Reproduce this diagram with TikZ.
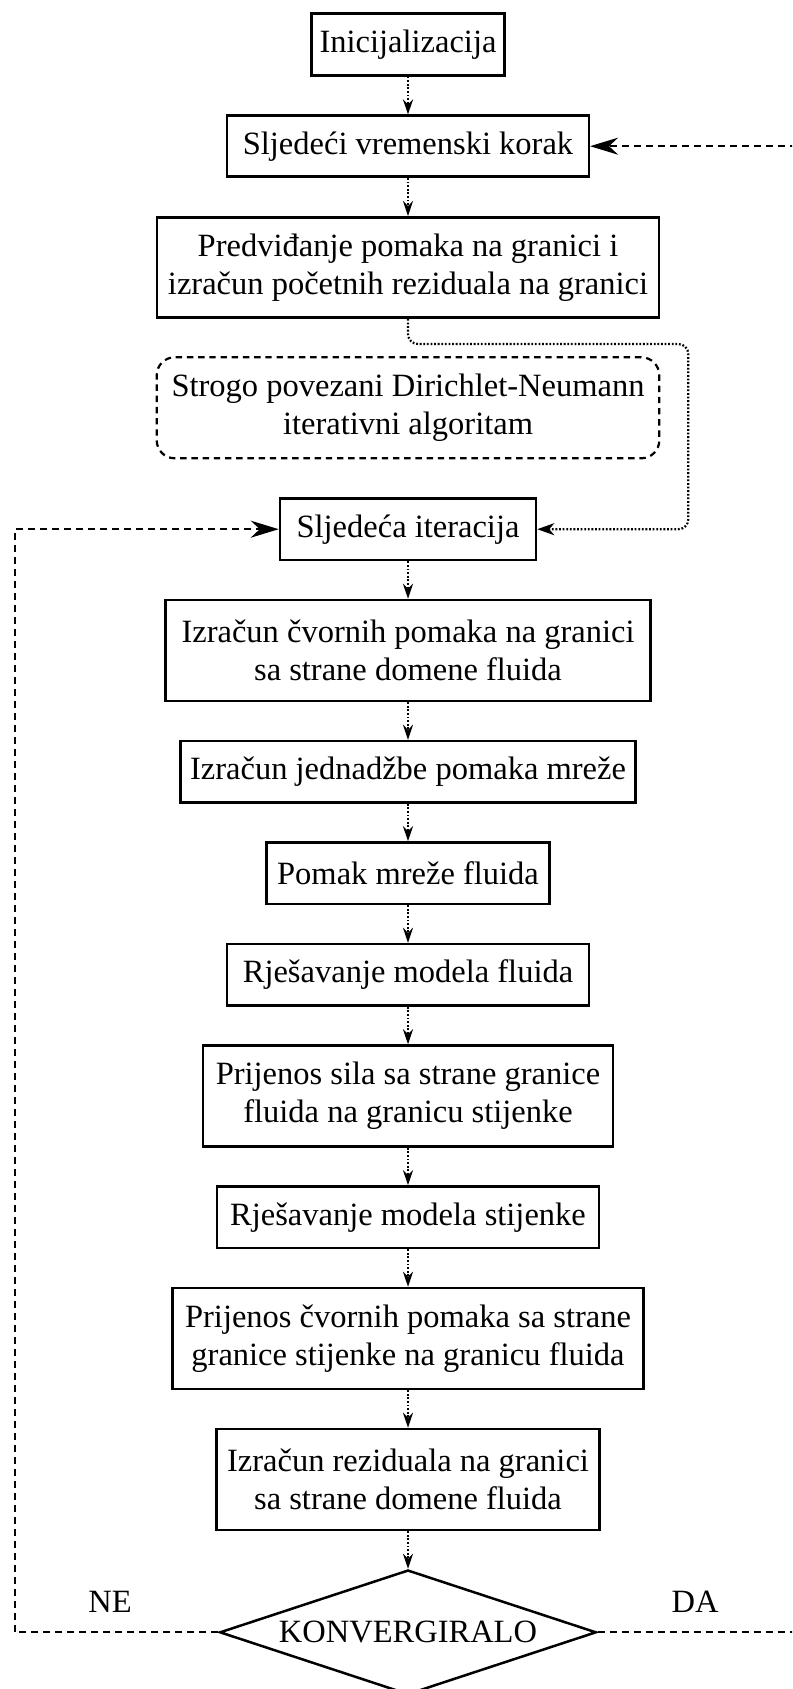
\documentclass[tikz,border=0pt]{standalone}
\usepackage{fontspec}
\setmainfont{Liberation Serif}
\usetikzlibrary{arrows.meta,shapes.geometric}
\begin{document}
\begin{tikzpicture}[x=0.5pt,y=-0.5pt,
  every node/.style={font=\fontsize{16.25}{19.15}\selectfont},
  box/.style={draw, line width=1.25pt, inner sep=0pt, align=center},
  group/.style={draw, line width=1.1pt, inner sep=0pt, align=center, rounded corners=9pt, dash pattern=on 3.2pt off 2.4pt},
  decision/.style={draw, diamond, aspect=3.02, line width=1.25pt, inner sep=0pt, align=center},
  flowdot/.style={line width=1.1pt, dash pattern=on 0.9pt off 0.9pt, -{Stealth[length=7.5pt,width=5pt,inset=2.5pt]}},
  flowdash/.style={line width=1.1pt, dash pattern=on 3.5pt off 2.5pt},
  bigtip/.style={-{Stealth[length=14pt,width=8.5pt,inset=4.5pt]}},
  lbl/.style={inner sep=0pt}
]
\useasboundingbox (0,0) rectangle (792,1689);
\clip (0,0) rectangle (792,1689);
\fill[white] (0,0) rectangle (792,1689);

\node[box, minimum width=96.7pt, minimum height=31pt] (init) at (408,44.3) {Inicijalizacija};
\node[box, minimum width=180.8pt, minimum height=30.5pt] (sljvk) at (408,146.2) {Sljedeći vremenski korak};
\node[box, minimum width=251pt, minimum height=50.2pt] (pred) at (408,267.5) {Predviđanje pomaka na granici i\\izračun početnih reziduala na granici};
\node[group, minimum width=251.3pt, minimum height=50.5pt] (strogo) at (408,407.8) {Strogo povezani Dirichlet-Neumann\\iterativni algoritam};
\node[box, minimum width=128pt, minimum height=30.85pt] (sljit) at (408,529.2) {Sljedeća iteracija};
\node[box, minimum width=242.5pt, minimum height=50.5pt] (cvor1) at (408,650.5) {Izračun čvornih pomaka na granici\\sa strane domene fluida};
\node[box, minimum width=227.7pt, minimum height=30.75pt] (jedn) at (408,771.8) {Izračun jednadžbe pomaka mreže};
\node[box, minimum width=141.5pt, minimum height=30.75pt] (pomak) at (408,873.2) {Pomak mreže fluida};
\node[box, minimum width=180.9pt, minimum height=30.75pt] (fluida) at (408,974.8) {Rješavanje modela fluida};
\node[box, minimum width=205pt, minimum height=50.5pt] (sila) at (408,1096) {Prijenos sila sa strane granice\\fluida na granicu stijenke};
\node[box, minimum width=191pt, minimum height=30.75pt] (stij) at (408,1217.2) {Rješavanje modela stijenke};
\node[box, minimum width=235.5pt, minimum height=50.5pt] (cvor2) at (408,1338.5) {Prijenos čvornih pomaka sa strane\\granice stijenke na granicu fluida};
\node[box, minimum width=191.7pt, minimum height=50.5pt] (rezid) at (408,1479.5) {Izračun reziduala na granici\\sa strane domene fluida};
\node[decision, minimum width=188.3pt, minimum height=62.3pt] (conv) at (408,1632.3) {KONVERGIRALO};

\node[lbl] (ne) at (110,1601.7) {NE};
\node[lbl] (da) at (695,1601.7) {DA};

\coordinate (cr) at (688.3,344);
\coordinate (lt) at (15,529.2);
\coordinate (rt) at (830,146.2);

\draw[flowdot] (init) -- (sljvk);
\draw[flowdot] (sljvk) -- (pred);
\draw[flowdot, rounded corners=5pt, -{Stealth[length=8.5pt,width=6pt,inset=2.5pt]}] (pred.south) |- (cr) |- (sljit.east);
\draw[flowdot] (sljit) -- (cvor1);
\draw[flowdot] (cvor1) -- (jedn);
\draw[flowdot] (jedn) -- (pomak);
\draw[flowdot] (pomak) -- (fluida);
\draw[flowdot] (fluida) -- (sila);
\draw[flowdot] (sila) -- (stij);
\draw[flowdot] (stij) -- (cvor2);
\draw[flowdot] (cvor2) -- (rezid);
\draw[flowdot] (rezid) -- (conv);

\draw[flowdash, bigtip] (conv.west) -| (lt) -- (sljit.west);
\draw[flowdash, bigtip] (conv.east) -| (rt) -- (sljvk.east);
\end{tikzpicture}
\end{document}
